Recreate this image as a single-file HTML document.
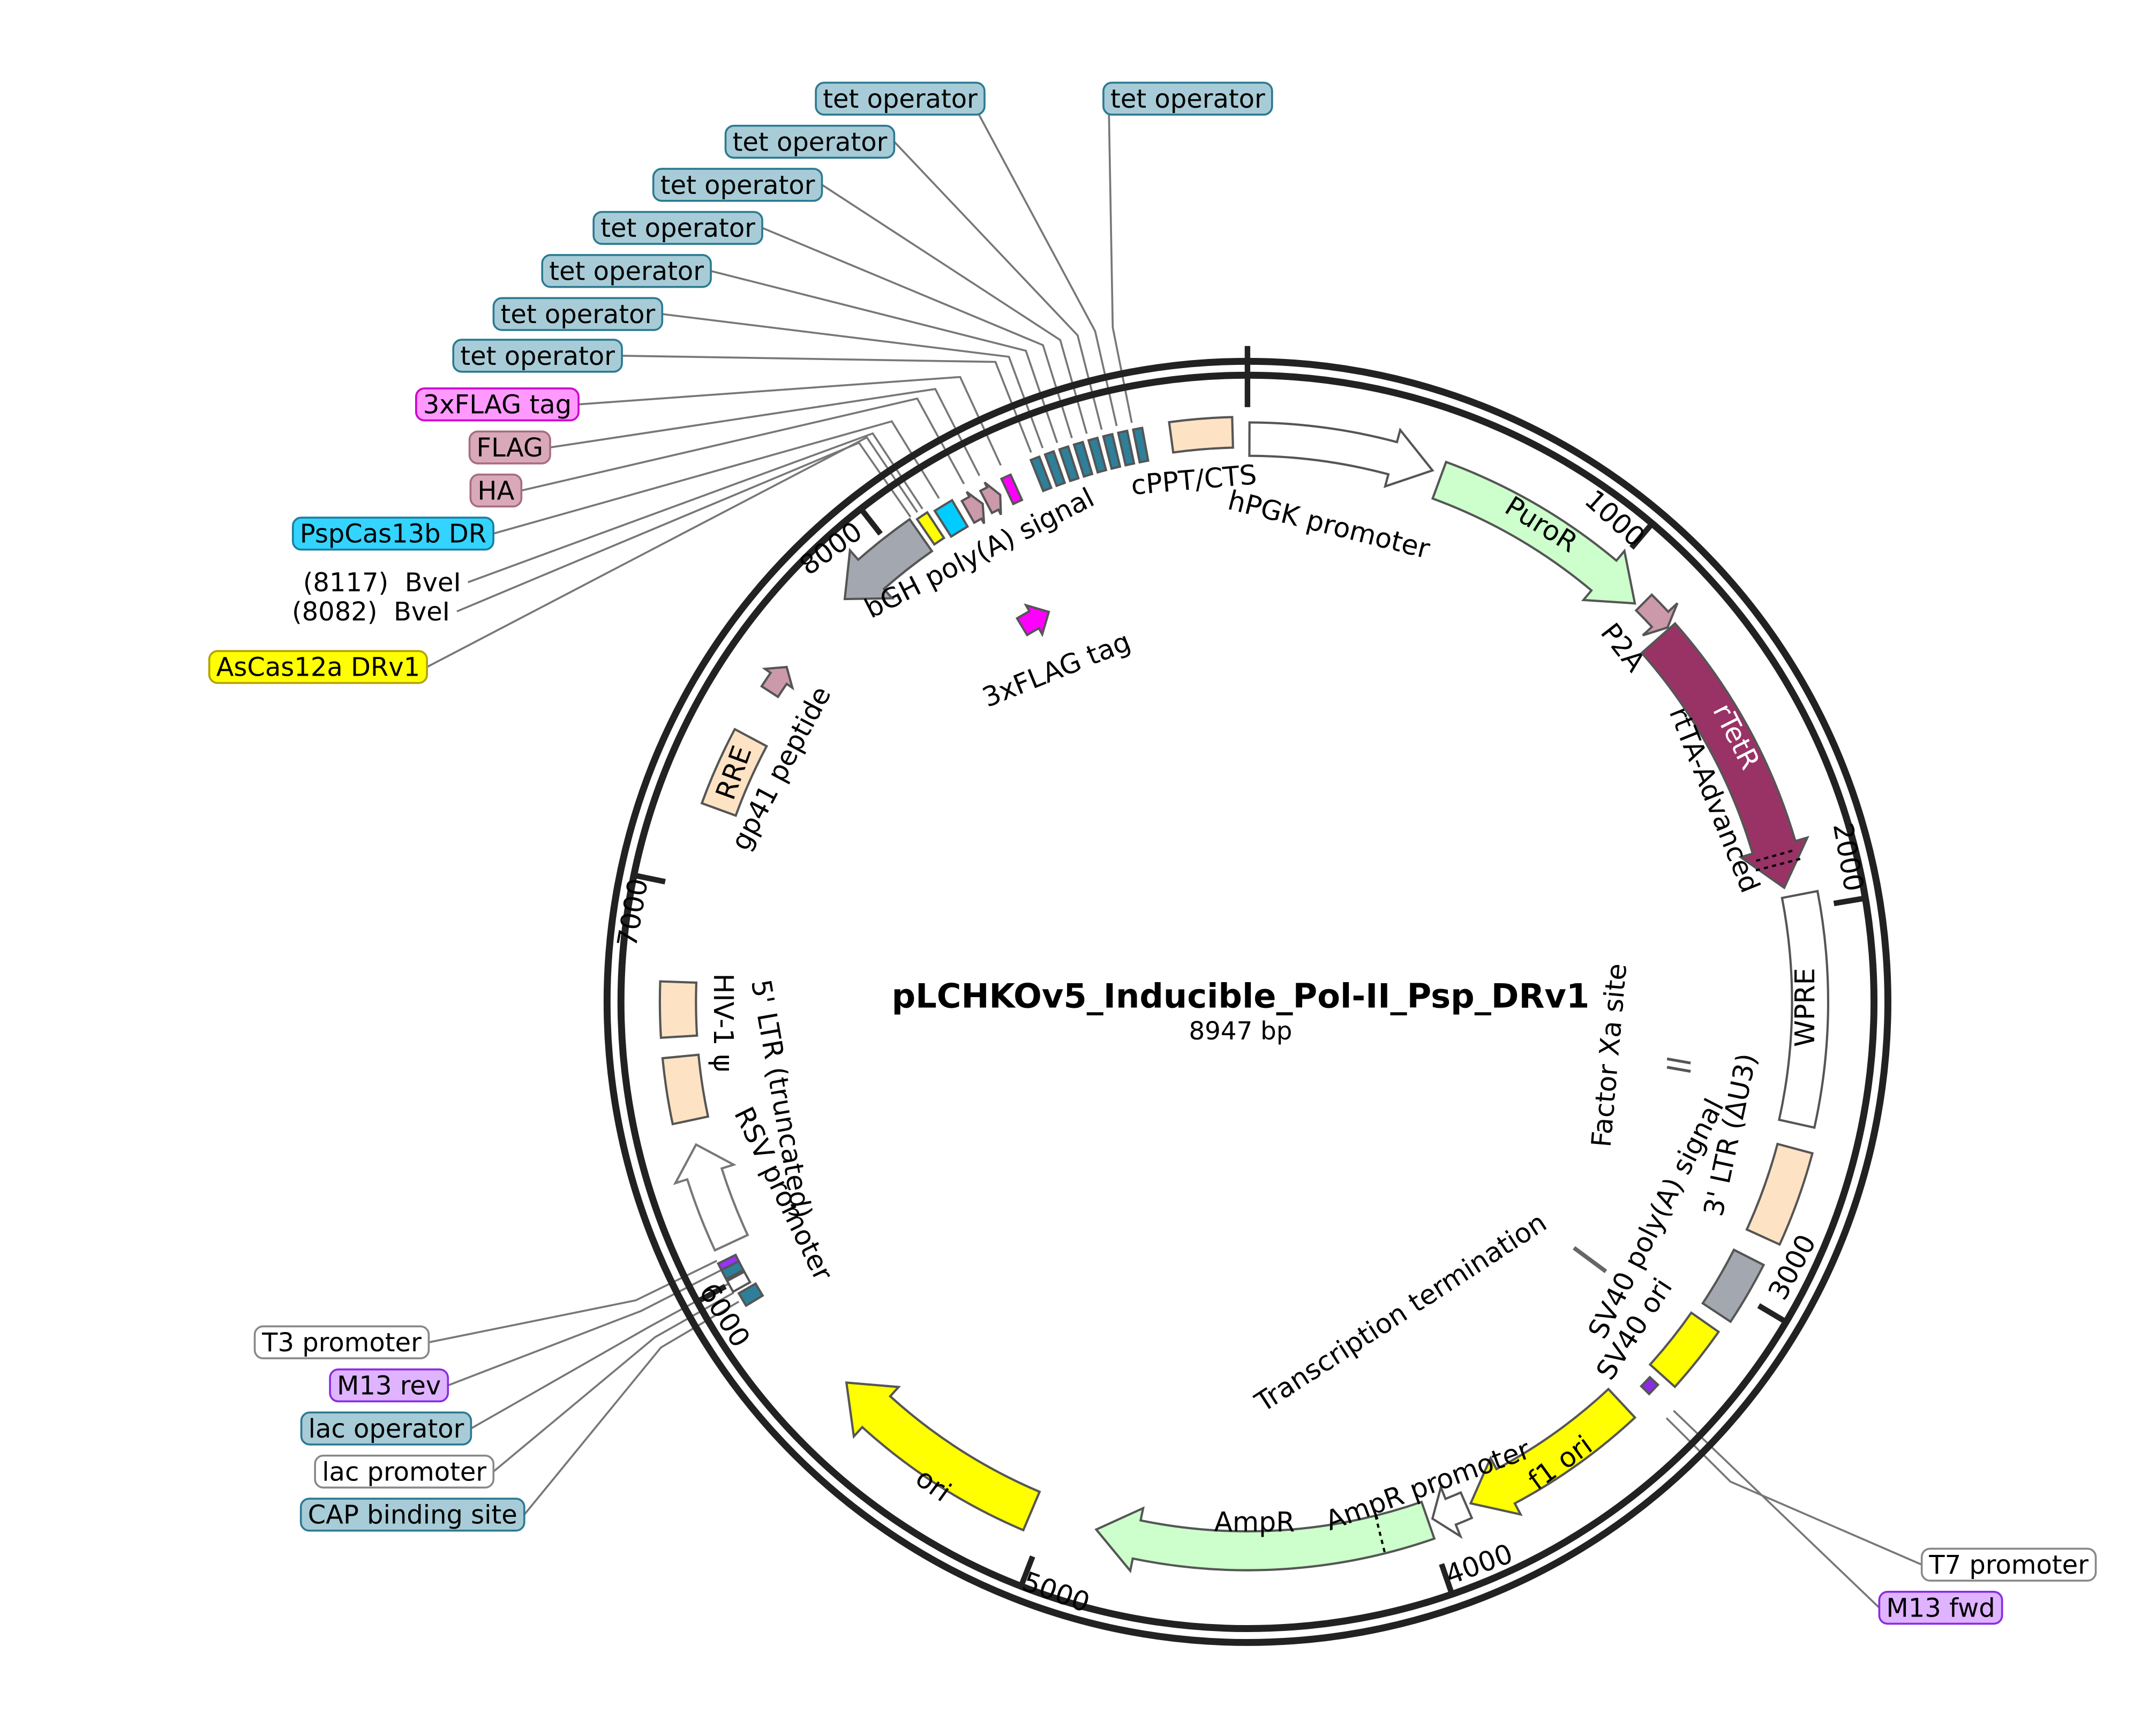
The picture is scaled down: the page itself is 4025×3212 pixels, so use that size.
<!DOCTYPE html>
<html><head><meta charset="utf-8"><style>
html,body{margin:0;padding:0;background:#fff;}
svg{display:block;}
text{font-family:"DejaVu Sans","Liberation Sans",sans-serif;font-size:19.5px;fill:#000;}
#callouts text{font-size:18.5px;}
</style></head><body>
<svg id="s" width="4025" height="3212" viewBox="0 0 1552 1238.5" xmlns="http://www.w3.org/2000/svg">
<g id="lines" stroke="#777" stroke-width="1.4" fill="none"></g>
<circle cx="898" cy="721" r="461" fill="none" stroke="#222" stroke-width="5"/>
<circle cx="898" cy="721" r="451" fill="none" stroke="#222" stroke-width="5"/>
<g id="ticks" stroke="#222" stroke-width="4"></g>
<g id="feat" stroke="#555" stroke-width="1.6"></g>

<!-- center -->
<text x="893" y="725" text-anchor="middle" style="font-weight:bold;font-size:24px">pLCHKOv5_Inducible_Pol-II_Psp_DRv1</text>
<text x="893" y="748" text-anchor="middle" style="font-size:18px">8947 bp</text>

<!-- tick labels -->
<text transform="translate(1158,378) rotate(42)" text-anchor="middle">1000</text>
<text transform="translate(1324,618) rotate(80)" text-anchor="middle">2000</text>
<text transform="translate(1296,915) rotate(-62)" text-anchor="middle">3000</text>
<text transform="translate(1067,1132) rotate(-20)" text-anchor="middle">4000</text>
<text transform="translate(758,1152) rotate(20)" text-anchor="middle">5000</text>
<text transform="translate(516,950) rotate(58)" text-anchor="middle">6000</text>
<text transform="translate(462,658) rotate(-80)" text-anchor="middle">7000</text>
<text transform="translate(602,400) rotate(-36)" text-anchor="middle">8000</text>

<!-- feature labels -->
<text transform="translate(860,352) rotate(-5)" text-anchor="middle">cPPT/CTS</text>
<text transform="translate(955,384) rotate(14)" text-anchor="middle">hPGK promoter</text>
<text transform="translate(1106,383) rotate(32)" text-anchor="middle">PuroR</text>
<text transform="translate(1163,470) rotate(52)" text-anchor="middle">P2A</text>
<text transform="translate(1244,533) rotate(63)" text-anchor="middle" style="fill:#fff">rTetR</text>
<text transform="translate(1228,578) rotate(68)" text-anchor="middle">rtTA-Advanced</text>
<text transform="translate(1306,725) rotate(-90)" text-anchor="middle">WPRE</text>
<text transform="translate(1252,818) rotate(-78)" text-anchor="middle">3' LTR (ΔU3)</text>
<text transform="translate(1198,880) rotate(-63)" text-anchor="middle">SV40 poly(A) signal</text>
<text transform="translate(1182,960) rotate(-57)" text-anchor="middle">SV40 ori</text>
<text transform="translate(1165,760) rotate(-85)" text-anchor="middle">Factor Xa site</text>
<text transform="translate(1012,950) rotate(-33)" text-anchor="middle">Transcription termination</text>
<text transform="translate(1127,1058) rotate(-36)" text-anchor="middle">f1 ori</text>
<text transform="translate(1030,1075) rotate(-20)" text-anchor="middle">AmpR promoter</text>
<text x="903" y="1102" text-anchor="middle">AmpR</text>
<text transform="translate(668,1074) rotate(36)" text-anchor="middle">ori</text>
<text transform="translate(558,862) rotate(64)" text-anchor="middle">RSV promoter</text>
<text transform="translate(556,792) rotate(80)" text-anchor="middle">5' LTR (truncated)</text>
<text transform="translate(514,736) rotate(90)" text-anchor="middle">HIV-1 ψ</text>
<text transform="translate(528,556) rotate(-70)" text-anchor="middle" dy="0.35em">RRE</text>
<text transform="translate(568,556) rotate(-62)" text-anchor="middle">gp41 peptide</text>
<text transform="translate(708,404) rotate(-27)" text-anchor="middle">bGH poly(A) signal</text>
<text transform="translate(763,488) rotate(-22)" text-anchor="middle">3xFLAG tag</text>

<g id="callouts"></g>
</svg>
<script>
var cx=898,cy=721,N=8947,NS="http://www.w3.org/2000/svg";
function pt(a,r){var t=a*Math.PI/180;return [cx+r*Math.sin(t),cy-r*Math.cos(t)];}
function P(p){return p[0].toFixed(2)+","+p[1].toFixed(2);}
function add(g,tag,at){var e=document.createElementNS(NS,tag);for(var k in at)e.setAttribute(k,at[k]);document.getElementById(g).appendChild(e);return e;}
function box(a1,a2,r,w,fill,stroke){var ro=r+w/2,ri=r-w/2,l=(a2-a1)>180?1:0;
 var d="M"+P(pt(a1,ro))+"A"+ro+","+ro+" 0 "+l+" 1 "+P(pt(a2,ro))+"L"+P(pt(a2,ri))+"A"+ri+","+ri+" 0 "+l+" 0 "+P(pt(a1,ri))+"Z";
 add("feat","path",{d:d,fill:fill,stroke:stroke||"#555"});}
function arrow(a1,a2,r,w,fill,dir,hp,stroke,wing){
 hp=hp||22;wing=wing||9;var h=hp/r*180/Math.PI,ro=r+w/2,ri=r-w/2,wo=r+w/2+wing,wi=r-w/2-wing,d;
 if(dir>0){var b=a2-h;d="M"+P(pt(a1,ro))+"A"+ro+","+ro+" 0 0 1 "+P(pt(b,ro))+"L"+P(pt(b,wo))+"L"+P(pt(a2,r))+"L"+P(pt(b,wi))+"L"+P(pt(b,ri))+"A"+ri+","+ri+" 0 0 0 "+P(pt(a1,ri))+"Z";}
 else{var b=a1+h;d="M"+P(pt(a2,ro))+"A"+ro+","+ro+" 0 0 0 "+P(pt(b,ro))+"L"+P(pt(b,wo))+"L"+P(pt(a1,r))+"L"+P(pt(b,wi))+"L"+P(pt(b,ri))+"A"+ri+","+ri+" 0 0 1 "+P(pt(a2,ri))+"Z";}
 add("feat","path",{d:d,fill:fill,stroke:stroke||"#555"});}
function dash(a,r,w){var p1=pt(a,r-w/2),p2=pt(a,r+w/2);add("feat","line",{x1:p1[0],y1:p1[1],x2:p2[0],y2:p2[1],stroke:"#000","stroke-width":1.6,"stroke-dasharray":"3,3"});}
// ticks
for(var i=0;i<9;i++){var a=i*1000/N*360;var r1=428,r2=i==0?472:452;add("ticks","line",{x1:pt(a,r1)[0],y1:pt(a,r1)[1],x2:pt(a,r2)[0],y2:pt(a,r2)[1]});}
// features
box(352.3,358.5,410,22,"#fde3c4");
arrow(0.2,19.2,405,24,"#fff",1,30);
arrow(20.2,44.2,400,28,"#ccffcc",1,30);
arrow(44.8,48.3,405,16,"#cc99aa",1,8);
arrow(48.5,78,395,32,"#993366",1,30);
dash(74.5,395,30);dash(75.5,395,34);
box(79,102.5,405,26,"#fff");
box(105,114.5,408,26,"#fde3c4");
box(117,123.5,405,24,"#a3a8b0");
box(125,132,402,24,"#ffff00");
box(133,134.3,400,8,"#8a2be2");
arrow(137,156,395,28,"#ffff00",1,28);
arrow(156.5,160.3,395,20,"#fff",1,14);
arrow(160.8,196,395,28,"#ccffcc",1,30);
dash(166,395,28);
arrow(203,226.5,398,30,"#ffff00",1,30);
box(238.8,240.2,415,14,"#2e7f99");
box(240.6,241.8,418,14,"#fff");
box(242,243,418,14,"#2e7f99");
box(243,243.7,418,14,"#9b30ff");
arrow(245,255.5,410,26,"#fff",1,22,"#777");
box(258,264.5,410,26,"#fde3c4");
box(266.5,272,410,26,"#fde3c4");
box(290,298,405,26,"#fde3c4");
arrow(303,306,410,14,"#cc99aa",1,10,null,5);
arrow(315,325,410,28,"#a3a8b0",-1,26);
box(325.6,326.8,410,22,"#ffff00");
box(327.5,329.5,408,22,"#00ccff");
arrow(330.3,332,406,18,"#cc99aa",1,6,null,4);
arrow(332.4,334,406,18,"#cc99aa",1,6,null,4);
box(334.8,335.8,406,20,"#ff00ff");
for(var k=0;k<8;k++){var a=338.2+k*1.5;box(a,a+0.9,408,24,"#2e7f99");}
arrow(329,333,315,14,"#ff00ff",1,12,null,5);
add("feat","line",{x1:1200,y1:762,x2:1217,y2:765,stroke:"#555","stroke-width":2});
add("feat","line",{x1:1200,y1:768,x2:1217,y2:771,stroke:"#555","stroke-width":2});
add("feat","line",{x1:1133,y1:898,x2:1156,y2:915,stroke:"#666","stroke-width":3});
var C=[
 ["tet operator",855,71,348.7,"#a8ccd7","#2b7a91",1],
 ["tet operator",648,71,347.2,"#a8ccd7","#2b7a91",0],
 ["tet operator",583,102,345.7,"#a8ccd7","#2b7a91",0],
 ["tet operator",531,133,344.2,"#a8ccd7","#2b7a91",0],
 ["tet operator",488,164,342.7,"#a8ccd7","#2b7a91",0],
 ["tet operator",451,195,341.2,"#a8ccd7","#2b7a91",0],
 ["tet operator",416,226,339.7,"#a8ccd7","#2b7a91",0],
 ["tet operator",387,256,338.5,"#a8ccd7","#2b7a91",0],
 ["3xFLAG tag",358,291,335.3,"#ff99ff","#cc00cc",0],
 ["FLAG",367,322,333,"#d9a9ba","#a86b82",0],
 ["HA",357,353,331.3,"#d9a9ba","#a86b82",0],
 ["PspCas13b DR",283,384,328.5,"#33d4ff","#1a7fa0",0],
 ["(8117)  BveI",275,419,326.6,null,null,0],
 ["(8082)  BveI",267,440,325.2,null,null,0],
 ["AsCas12a DRv1",229,480,326,"#ffff00","#b3a100",0],
 ["T3 promoter",246,966,244,"#fff","#888",0],
 ["M13 rev",280,997,243,"#dfb3ff","#8a2be2",0],
 ["lac operator",278,1028,241.5,"#a8ccd7","#2b7a91",0],
 ["lac promoter",291,1059,240.5,"#fff","#888",0],
 ["CAP binding site",297,1090,239.5,"#a8ccd7","#2b7a91",0],
 ["T7 promoter",1446,1126,134.8,"#fff","#888",1],
 ["M13 fwd",1397,1157,133.8,"#dfb3ff","#8a2be2",1]
];
C.forEach(function(c){
 var t=add("callouts","text",{x:c[1],y:c[2]+6.5,"text-anchor":"middle"});t.textContent=c[0];t.setAttribute("xml:space","preserve");t.style.whiteSpace="pre";
 var bb=t.getBBox();var w=bb.width+10,h=23;
 if(c[4]){var r=document.createElementNS(NS,"rect");r.setAttribute("x",c[1]-w/2);r.setAttribute("y",c[2]-h/2);r.setAttribute("width",w);r.setAttribute("height",h);r.setAttribute("rx",6);r.setAttribute("fill",c[4]);r.setAttribute("stroke",c[5]);r.setAttribute("stroke-width",1.4);t.parentNode.insertBefore(r,t);}
 var sx=c[6]?c[1]-w/2:c[1]+w/2,sy=c[2];
 if(c[2]<80){sy=c[2]+h/2;sx=c[6]?c[1]-w/2+4:c[1]+w/2-4;}
 var r2=(c[3]>330&&c[3]<350)?495:490;var m=pt(c[3],r2),e=pt(c[3],425);
 add("lines","polyline",{points:sx+","+sy+" "+P(m)+" "+P(e)});
});
</script>
</body></html>
